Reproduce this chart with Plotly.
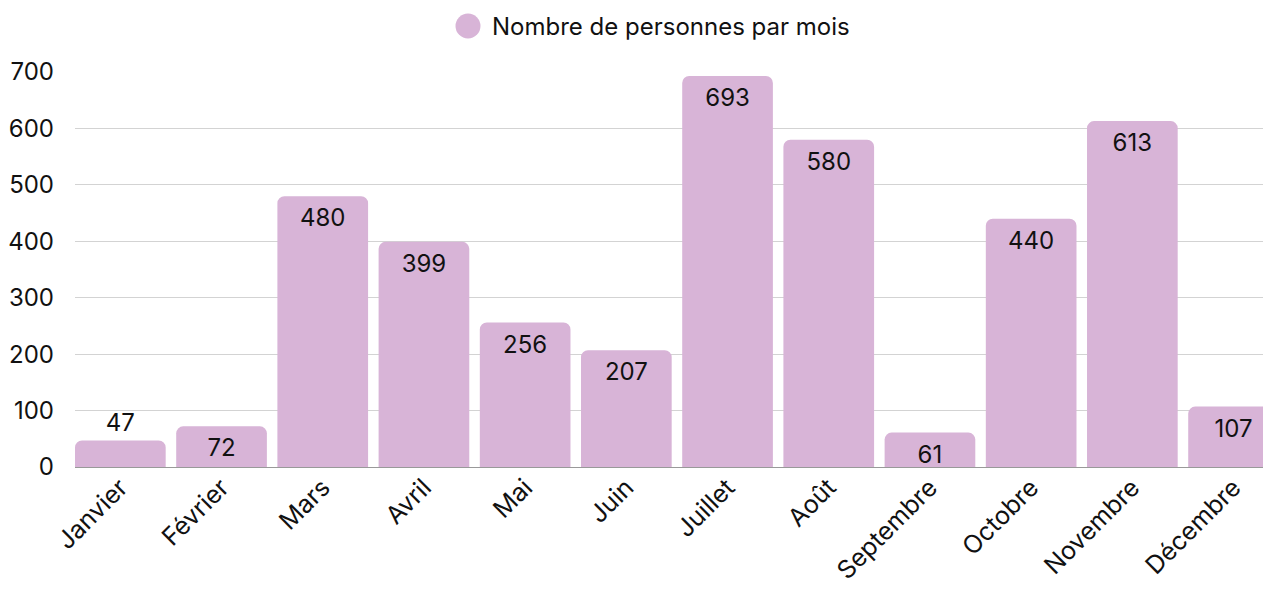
import plotly.graph_objects as go

months = ["Janvier", "Février", "Mars", "Avril", "Mai", "Juin", "Juillet",
          "Août", "Septembre", "Octobre", "Novembre", "Décembre"]
persons = [47, 72, 480, 399, 256, 207, 693, 580, 61, 440, 613, 107]
series_name = "Nombre de personnes par mois"
y_ticks = [0, 100, 200, 300, 400, 500, 600, 700]

BAR = "#d8b4d7"
FONT = "Inter, Lato, sans-serif"
FS = 24

# page body has an 8px margin; figure sized to fill the rest of the window
W, H = 1263, 583
L, T, B = 67, 64, 124
plot_w = W - L
plot_h = H - T - B

textpos = ["outside" if v < 50 else "inside" for v in persons]

fig = go.Figure()
fig.add_trace(go.Bar(
    x=months, y=persons, text=[str(v) for v in persons], name=series_name,
    textposition=textpos, insidetextanchor="end", textangle=0,
    textfont=dict(color="#111111", size=FS, family=FONT),
    marker=dict(color=BAR, cornerradius=7, line=dict(width=0)),
    showlegend=False, cliponaxis=True,
))

# legend drawn as circle + label
leg_cx = 460
leg_cy = 18
py = (H - B - leg_cy) / plot_h
fig.add_shape(type="circle", xref="paper", yref="paper",
              xsizemode="pixel", ysizemode="pixel",
              xanchor=(leg_cx - L) / plot_w, yanchor=py,
              x0=-12.5, x1=12.5, y0=-12.5, y1=12.5,
              fillcolor=BAR, line=dict(width=0))
fig.add_annotation(x=(leg_cx + 22 - L) / plot_w, y=py, xref="paper", yref="paper",
                   text=series_name, showarrow=False, xanchor="left", yanchor="middle",
                   font=dict(size=FS, family=FONT, color="#111111"))

fig.update_layout(
    width=W, height=H,
    margin=dict(l=L, r=0, t=T, b=B, autoexpand=False),
    plot_bgcolor="white", paper_bgcolor="white",
    bargap=0.104,
    font=dict(family=FONT, size=FS, color="#111111"),
    showlegend=False,
    uniformtext=dict(minsize=FS, mode="show"),
)
fig.update_xaxes(range=[-0.448, 11.37], tickangle=-45, showgrid=False,
                 showline=False, ticks="", automargin=False,
                 tickfont=dict(size=25, family=FONT))
fig.update_yaxes(range=[0, 700], tickvals=y_ticks, showgrid=True,
                 gridcolor="#d3d3d3", gridwidth=1, zeroline=True,
                 zerolinecolor="#999999", zerolinewidth=1,
                 ticks="", ticklabelstandoff=20, automargin=False,
                 tickfont=dict(size=FS, family=FONT))

fig.write_html("out.html")
